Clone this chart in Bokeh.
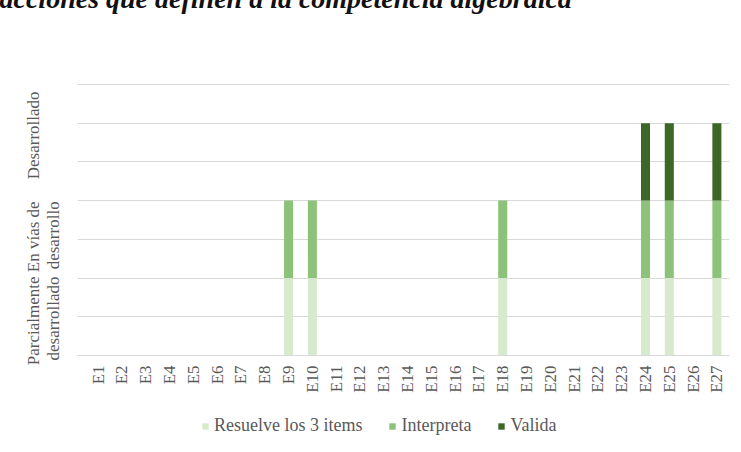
import math
from bokeh.plotting import figure
from bokeh.models import Range1d, FixedTicker, Legend, LegendItem, ColumnDataSource
from bokeh.embed import file_html
from bokeh.resources import INLINE

# ---- data ----
students = ["E1", "E2", "E3", "E4", "E5", "E6", "E7", "E8", "E9", "E10",
            "E11", "E12", "E13", "E14", "E15", "E16", "E17", "E18", "E19", "E20",
            "E21", "E22", "E23", "E24", "E25", "E26", "E27"]
resuelve = [0, 0, 0, 0, 0, 0, 0, 0, 2, 2, 0, 0, 0, 0, 0, 0, 0, 2, 0, 0, 0, 0, 0, 2, 2, 0, 2]
interpreta = [0, 0, 0, 0, 0, 0, 0, 0, 2, 2, 0, 0, 0, 0, 0, 0, 0, 2, 0, 0, 0, 0, 0, 2, 2, 0, 2]
valida = [0, 0, 0, 0, 0, 0, 0, 0, 0, 0, 0, 0, 0, 0, 0, 0, 0, 0, 0, 0, 0, 0, 0, 2, 2, 0, 2]
series_names = ["Resuelve los 3 items", "Interpreta", "Valida"]
levels = ["Parcialmente\ndesarrollado", "En vías de\ndesarrollo", "Desarrollado\n"]
level_label_tops = [2.04, 3.98, 6.82]
grid_values = [0, 1, 2, 3, 4, 5, 6, 7]
title_text = "acciones que definen a la competencia algebraica"

colors = ["#d7eacd", "#8dc27a", "#3d6726"]
FONT = "Liberation Serif"
GRAY = "#595959"

xpos = list(range(1, len(students) + 1))
src = ColumnDataSource(dict(x=xpos, resuelve=resuelve, interpreta=interpreta, valida=valida))

# frame reaches the bottom of the page so the legend can sit inside it
p = figure(frame_width=652, frame_height=369, output_backend="svg", toolbar_location=None,
           x_range=Range1d(0.13, 27.53), y_range=Range1d(-2.48, 7.05),
           min_border_left=77, min_border_right=12, min_border_top=0, min_border_bottom=0)
p.margin = (-89, 0, 0, 0)
p.outline_line_color = None
p.background_fill_color = "white"
p.border_fill_color = "white"

# title (top half falls outside the window, as in the reference)
p.title.text = title_text
p.title.text_font = FONT
p.title.text_font_size = "28px"
p.title.text_font_style = "bold italic"
p.title.text_color = "#111111"
p.title.align = "left"
p.title.offset = -78
p.title.standoff = 138

rs = p.vbar_stack(["resuelve", "interpreta", "valida"], x="x", width=0.38,
                  fill_color=colors, line_color=None, source=src)

# x axis, pinned at value 0
p.xaxis.fixed_location = 0
p.xaxis.ticker = FixedTicker(ticks=xpos)
p.xaxis.major_label_overrides = {i: s for i, s in zip(xpos, students)}
p.xaxis.major_label_orientation = math.pi / 2
p.xaxis.axis_line_color = "#d9d9d9"
p.xaxis.major_tick_line_color = None
p.xaxis.minor_tick_line_color = None
p.xaxis.major_tick_out = 0
p.xaxis.major_label_standoff = 10
p.xaxis.major_label_text_font = FONT
p.xaxis.major_label_text_font_size = "17px"
p.xaxis.major_label_text_color = GRAY

# y axis: level names
p.yaxis.ticker = FixedTicker(ticks=level_label_tops)
p.yaxis.major_label_overrides = {v: s for v, s in zip(level_label_tops, levels)}
p.yaxis.major_label_orientation = math.pi / 2
p.yaxis.axis_line_color = None
p.yaxis.major_tick_line_color = None
p.yaxis.minor_tick_line_color = None
p.yaxis.major_tick_out = 0
p.yaxis.major_label_standoff = 34
p.yaxis.major_label_text_font = FONT
p.yaxis.major_label_text_font_size = "17px"
p.yaxis.major_label_text_line_height = 1.1
p.yaxis.major_label_text_color = GRAY

p.ygrid.ticker = FixedTicker(ticks=grid_values)
p.ygrid.grid_line_color = "#d9d9d9"
p.xgrid.grid_line_color = None

legend = Legend(items=[LegendItem(label=n, renderers=[r]) for n, r in zip(series_names, rs)],
                location=(124, 15), orientation="horizontal",
                glyph_width=8, glyph_height=8, label_standoff=5, spacing=26,
                padding=0, margin=0, border_line_color=None, background_fill_alpha=0,
                label_text_font=FONT, label_text_font_size="18px", label_text_color=GRAY)
p.add_layout(legend)

open("out.html", "w").write(file_html(p, INLINE))
